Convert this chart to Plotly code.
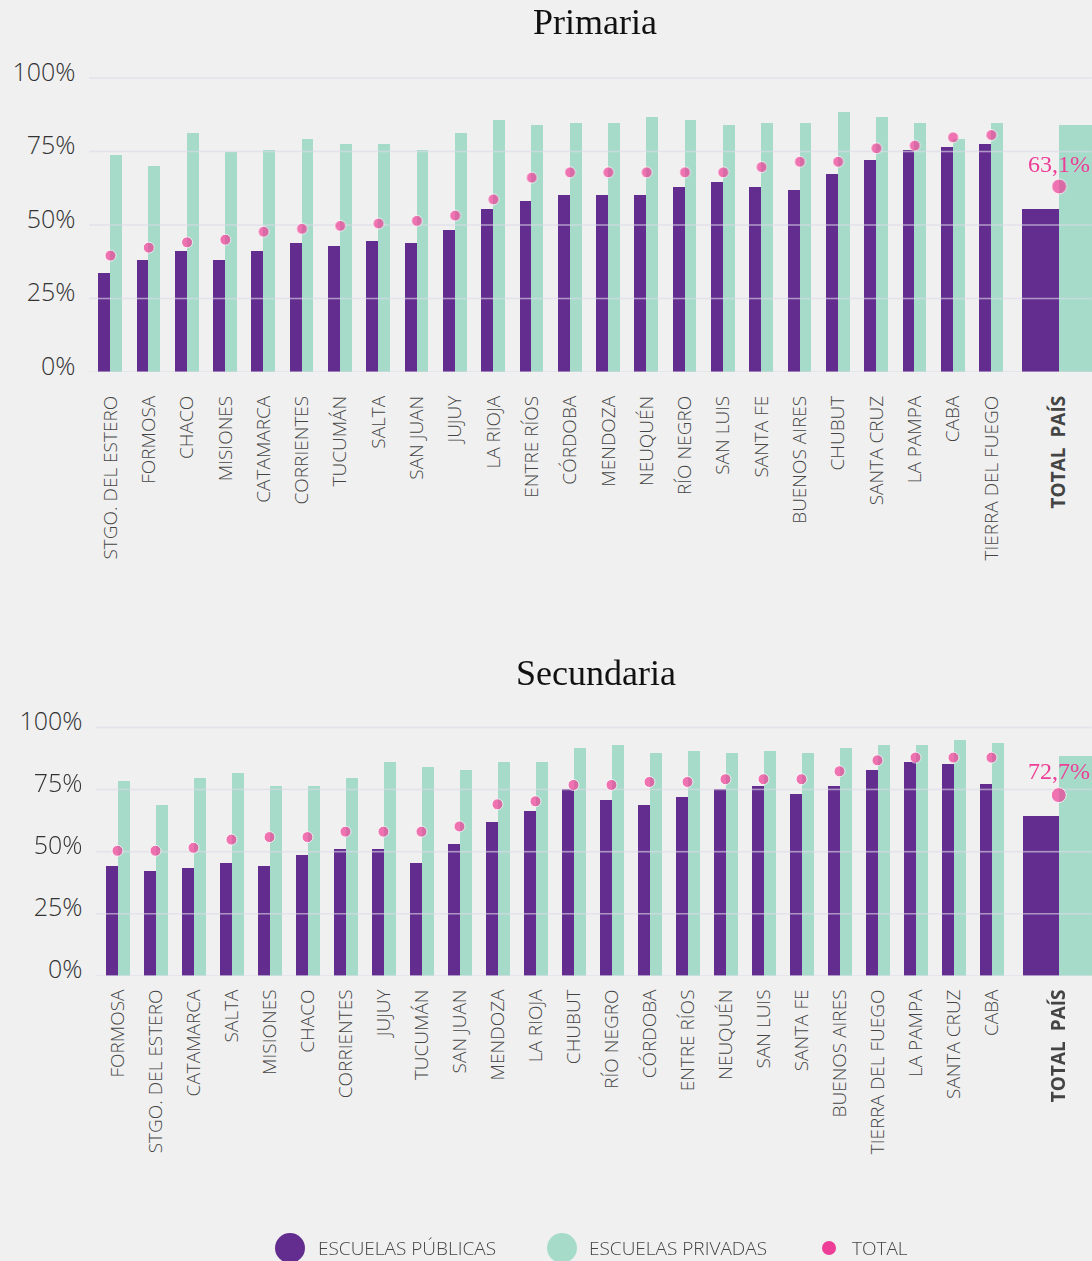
import plotly.graph_objects as go

PUB_COLOR = "#632c8f"    # escuelas públicas
PRIV_COLOR = "#a6dbca"   # escuelas privadas
TOT_COLOR = "#ee3d96"    # total
GRID_COLOR = "#dcdae6"
BG = "#f0f0f0"
SANS = "'Open Sans', 'Noto Sans', sans-serif"
SERIF = "'Liberation Serif', 'DejaVu Serif', serif"

# ── Primaria ──
PRIM_PROV = ["STGO. DEL ESTERO", "FORMOSA", "CHACO", "MISIONES", "CATAMARCA", "CORRIENTES",
             "TUCUMÁN", "SALTA", "SAN JUAN", "JUJUY", "LA RIOJA", "ENTRE RÍOS", "CÓRDOBA",
             "MENDOZA", "NEUQUÉN", "RÍO NEGRO", "SAN LUIS", "SANTA FE", "BUENOS AIRES",
             "CHUBUT", "SANTA CRUZ", "LA PAMPA", "CABA", "TIERRA DEL FUEGO"]
PRIM_PUB = [33.7, 38.1, 41.2, 38.1, 41.2, 43.9, 42.9, 44.6, 43.9, 48.3, 55.4, 58.2,
            60.2, 60.2, 60.2, 62.9, 64.6, 62.9, 61.9, 67.3, 72.1, 75.5, 76.5, 77.6]
PRIM_PRIV = [73.8, 70.1, 81.3, 74.8, 75.5, 79.3, 77.6, 77.6, 75.5, 81.3, 85.7, 84.0,
             84.7, 84.7, 86.7, 85.7, 84.0, 84.7, 84.7, 88.4, 86.7, 84.7, 79.3, 84.7]
PRIM_TOT = [39.6, 42.3, 44.1, 45.0, 47.7, 48.7, 49.7, 50.5, 51.4, 53.2, 58.7, 66.1,
            67.9, 67.9, 67.9, 67.9, 67.9, 69.7, 71.5, 71.5, 76.1, 77.0, 79.8, 80.6]
PRIM_PAIS = [55.4, 84.0, 63.1]   # públicas, privadas, total
PRIM_PAIS_LABEL = "63,1%"

# ── Secundaria ──
SEC_PROV = ["FORMOSA", "STGO. DEL ESTERO", "CATAMARCA", "SALTA", "MISIONES", "CHACO",
            "CORRIENTES", "JUJUY", "TUCUMÁN", "SAN JUAN", "MENDOZA", "LA RIOJA", "CHUBUT",
            "RÍO NEGRO", "CÓRDOBA", "ENTRE RÍOS", "NEUQUÉN", "SAN LUIS", "SANTA FE",
            "BUENOS AIRES", "TIERRA DEL FUEGO", "LA PAMPA", "SANTA CRUZ", "CABA"]
SEC_PUB = [44.2, 42.1, 43.4, 45.4, 44.2, 48.6, 51.0, 51.0, 45.4, 53.0, 61.9, 66.3,
           75.2, 70.7, 68.7, 71.9, 75.2, 76.4, 73.2, 76.4, 82.8, 86.0, 85.2, 77.2]
SEC_PRIV = [78.4, 68.7, 79.6, 81.6, 76.4, 76.4, 79.6, 86.0, 84.0, 82.8, 86.0, 86.0,
            91.7, 92.9, 89.7, 90.5, 89.7, 90.5, 89.7, 91.7, 92.9, 92.9, 94.9, 93.7]
SEC_TOT = [50.3, 50.3, 51.5, 54.8, 55.8, 55.8, 58.0, 58.0, 58.0, 60.1, 69.0, 70.2,
           76.8, 76.8, 78.0, 78.0, 79.1, 79.1, 79.1, 82.3, 86.7, 87.8, 87.8, 87.8]
SEC_PAIS = [64.3, 88.5, 72.7]
SEC_PAIS_LABEL = "72,7%"

PAIS_NAME = "TOTAL  PAÍS"
Y_TICKS = [0, 25, 50, 75, 100]
Y_TICKTEXT = ["0%", "25%", "50%", "75%", "100%"]

W, H = 1092, 1261
BAR_W = 0.31
PAIS_GAP = 1.77
Y_TOP = 101   # a little headroom so the 100% line is not cut


def x_range(domain_left_px, first_px, unit_px):
    return [(domain_left_px - first_px) / unit_px, (W - first_px) / unit_px]


def add_panel(fig, provs, pub, priv, tot, pais, xa, ya, xr):
    n = len(provs)
    xs = list(range(n)) + [n - 1 + PAIS_GAP]
    fig.add_trace(go.Bar(
        x=xs, y=pub + [pais[0]], xaxis=xa, yaxis=ya,
        width=[BAR_W] * n + [0.96], offset=[-BAR_W] * n + [-0.96],
        marker=dict(color=PUB_COLOR, line=dict(width=0)),
        name="ESCUELAS PÚBLICAS", showlegend=False,
    ))
    fig.add_trace(go.Bar(
        x=xs, y=priv + [pais[1]], xaxis=xa, yaxis=ya,
        width=[BAR_W] * n + [1.2], offset=[0] * n + [0],
        marker=dict(color=PRIV_COLOR, line=dict(width=0)),
        name="ESCUELAS PRIVADAS", showlegend=False,
    ))
    # grid lines run over the bars but under the dots, as in the original
    gx, gy = [], []
    for v in Y_TICKS:
        gx += [xr[0], xr[1], None]
        gy += [v, v, None]
    fig.add_trace(go.Scatter(
        x=gx, y=gy, xaxis=xa, yaxis=ya, mode="lines",
        line=dict(color=GRID_COLOR, width=1.5), opacity=0.65,
        hoverinfo="skip", showlegend=False, cliponaxis=True,
    ))
    fig.add_trace(go.Scatter(
        x=xs, y=tot + [pais[2]], xaxis=xa, yaxis=ya, mode="markers",
        marker=dict(color=TOT_COLOR, size=[11] * n + [15]),
        name="TOTAL", showlegend=False, cliponaxis=False,
    ))
    ticktext = provs + ["<b>" + PAIS_NAME + "</b>"]
    return xs, ticktext


XR1 = x_range(89.4, 110.5, 38.3)
XR2 = x_range(96.5, 117.5, 38.0)

fig = go.Figure()
xs1, tt1 = add_panel(fig, PRIM_PROV, PRIM_PUB, PRIM_PRIV, PRIM_TOT, PRIM_PAIS, "x", "y", XR1)
xs2, tt2 = add_panel(fig, SEC_PROV, SEC_PUB, SEC_PRIV, SEC_TOT, SEC_PAIS, "x2", "y2", XR2)


def xaxis_cfg(domain_left_px, xr, xs, ticktext, standoff, anchor):
    return dict(
        domain=[domain_left_px / W, 1], anchor=anchor, automargin=False,
        range=xr,
        tickvals=xs, ticktext=ticktext, tickangle=-90,
        tickfont=dict(family=SANS, size=19, color="#444444", weight=300),
        ticklabelstandoff=standoff,
        showgrid=False, zeroline=False, showline=False, ticks="",
        fixedrange=True,
    )


def yaxis_cfg(top_px, bottom_px, anchor):
    # top_px / bottom_px are where 100% and 0% sit on the page
    top_px -= (Y_TOP - 100) * (bottom_px - top_px) / 100
    return dict(
        domain=[1 - bottom_px / H, 1 - top_px / H], range=[0, Y_TOP], anchor=anchor,
        automargin=False,
        tickvals=Y_TICKS, ticktext=Y_TICKTEXT,
        tickfont=dict(family=SANS, size=25, color="#333333", weight=300),
        ticklabelstandoff=13, ticklabelshift=-6,
        showgrid=False, zeroline=False, showline=False, ticks="",
    )


annotations = [
    dict(text="Primaria", x=595 / W, y=1 - 22 / H, xref="paper", yref="paper",
         showarrow=False, xanchor="center", yanchor="middle",
         font=dict(family=SERIF, size=36, color="#111111")),
    dict(text="Secundaria", x=596 / W, y=1 - 673 / H, xref="paper", yref="paper",
         showarrow=False, xanchor="center", yanchor="middle",
         font=dict(family=SERIF, size=36, color="#111111")),
    dict(text=PRIM_PAIS_LABEL, x=xs1[-1], y=PRIM_PAIS[2], xref="x", yref="y",
         showarrow=False, yshift=22, xanchor="center", yanchor="middle",
         font=dict(family=SERIF, size=24, color=TOT_COLOR)),
    dict(text=SEC_PAIS_LABEL, x=xs2[-1], y=SEC_PAIS[2], xref="x2", yref="y2",
         showarrow=False, yshift=24, xanchor="center", yanchor="middle",
         font=dict(family=SERIF, size=24, color=TOT_COLOR)),
]

# Legend drawn by hand so the swatch sizes match
legend_items = [("ESCUELAS PÚBLICAS", PUB_COLOR, 290, 30, 316),
                ("ESCUELAS PRIVADAS", PRIV_COLOR, 562, 30, 587),
                ("TOTAL", TOT_COLOR, 829, 14, 850)]
LEG_Y = 1248
shapes = []
for label, color, cx, d, tx in legend_items:
    shapes.append(dict(type="circle", xref="paper", yref="paper",
                       x0=(cx - d / 2) / W, x1=(cx + d / 2) / W,
                       y0=1 - (LEG_Y + d / 2) / H, y1=1 - (LEG_Y - d / 2) / H,
                       fillcolor=color, line=dict(width=0)))
    annotations.append(dict(text=label, x=tx / W, y=1 - LEG_Y / H, xref="paper", yref="paper",
                            showarrow=False, xanchor="left", yanchor="middle",
                            font=dict(family=SANS, size=19, color="#444444", weight=300)))

fig.update_layout(
    width=W, height=H,
    margin=dict(l=0, r=0, t=0, b=0, autoexpand=False),
    paper_bgcolor=BG, plot_bgcolor=BG,
    barmode="overlay", bargap=0,
    showlegend=False,
    xaxis=xaxis_cfg(89.4, XR1, xs1, tt1, 19, "y"),
    yaxis=yaxis_cfg(78, 372, "x"),
    xaxis2=xaxis_cfg(96.5, XR2, xs2, tt2, 9, "y2"),
    yaxis2=yaxis_cfg(727.3, 975.7, "x2"),
    annotations=annotations,
    shapes=shapes,
    font=dict(family=SANS),
)

# pin the figure to the window's corner so the page is exactly the figure
pin = ("document.documentElement.style.overflow='hidden';"
       "document.body.style.margin='0';"
       "document.body.style.background='#f0f0f0';"
       "var d=document.getElementById('{plot_id}');"
       "d.style.position='fixed';d.style.top='0px';d.style.left='0px';")
fig.write_html("out.html", config={"displayModeBar": False}, post_script=pin)
